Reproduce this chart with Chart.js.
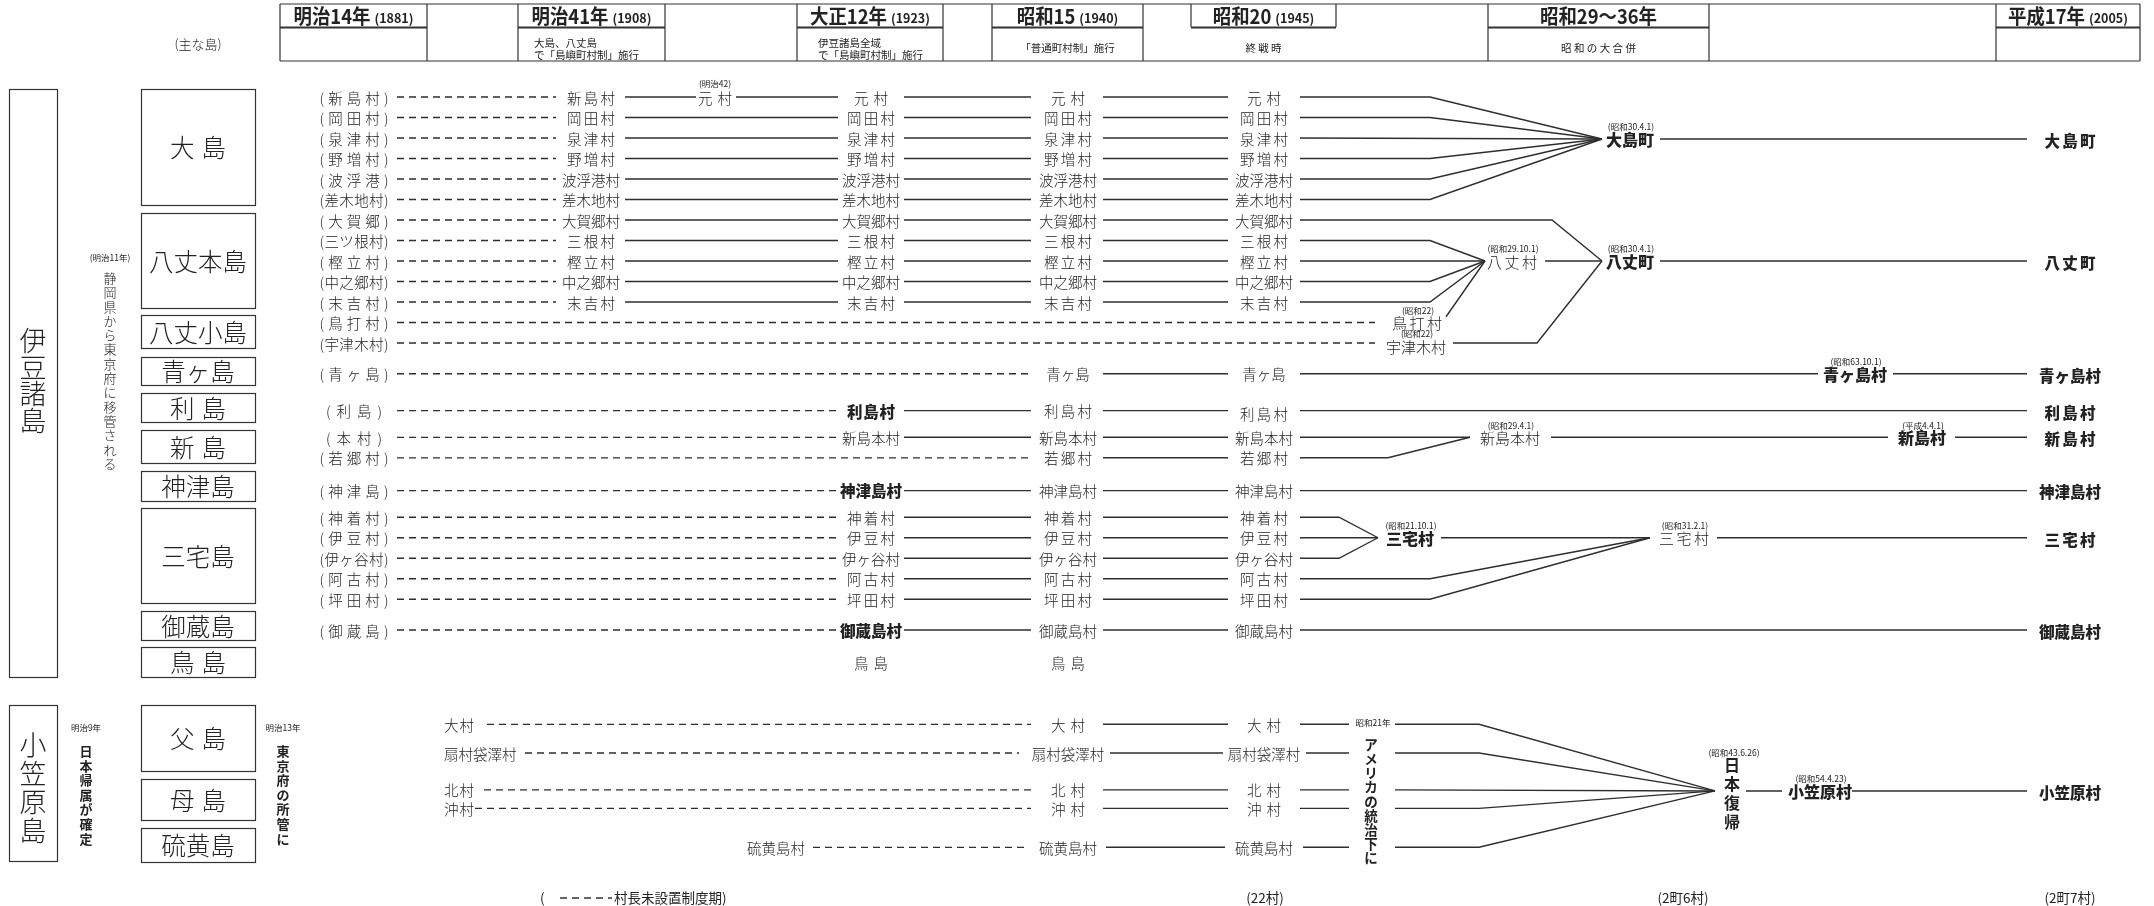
<!DOCTYPE html>
<html lang="ja">
<head>
<meta charset="utf-8">
<title>伊豆諸島・小笠原諸島 町村の変遷</title>
<script src="https://cdn.jsdelivr.net/npm/chart.js@4.4.1/dist/chart.umd.min.js"></script>
<style>
  html, body { margin: 0; padding: 0; background: #fff; }
  #wrap { width: 2154px; height: 906px; }
</style>
</head>
<body>
<div id="wrap"><canvas id="chart" width="2154" height="906"></canvas></div>
<script>
// ---------- data ----------
const periodNames = ['明治14年', '明治41年', '大正12年', '昭和15', '昭和20', '昭和29～36年', '平成17年'];
const periodYears = ['(1881)', '(1908)', '(1923)', '(1940)', '(1945)', '', '(2005)'];
const periodNotes = [[], ['大島、八丈島', 'で「島嶼町村制」施行'], ['伊豆諸島全域', 'で「島嶼町村制」施行'],
  ['「普通町村制」施行'], ['終 戦 時'], ['昭 和 の 大 合 併'], []];

const izuIslands = ['大 島', '八丈本島', '八丈小島', '青ヶ島', '利 島', '新 島', '神津島', '三宅島', '御蔵島', '鳥 島'];
const bonIslands = ['父 島', '母 島', '硫黄島'];

// 伊豆諸島 villages: 明治14 (old name) / 明治41 / 大正12 / 昭和15 / 昭和20
const izuOld = ['新島村', '岡田村', '泉津村', '野増村', '波浮港', '差木地村', '大賀郷', '三ツ根村', '樫立村', '中之郷村', '末吉村',
  '鳥打村', '宇津木村', '青ヶ島', '利島', '本村', '若郷村', '神津島', '神着村', '伊豆村', '伊ヶ谷村', '阿古村', '坪田村', '御蔵島', ''];
const izuM41 = ['新島村', '岡田村', '泉津村', '野増村', '波浮港村', '差木地村', '大賀郷村', '三根村', '樫立村', '中之郷村', '末吉村',
  '', '', '', '', '', '', '', '', '', '', '', '', '', ''];
const izuT12 = ['元村', '岡田村', '泉津村', '野増村', '波浮港村', '差木地村', '大賀郷村', '三根村', '樫立村', '中之郷村', '末吉村',
  '', '', '', '利島村', '新島本村', '', '神津島村', '神着村', '伊豆村', '伊ヶ谷村', '阿古村', '坪田村', '御蔵島村', '鳥島'];
const izuS15 = ['元村', '岡田村', '泉津村', '野増村', '波浮港村', '差木地村', '大賀郷村', '三根村', '樫立村', '中之郷村', '末吉村',
  '', '', '青ヶ島', '利島村', '新島本村', '若郷村', '神津島村', '神着村', '伊豆村', '伊ヶ谷村', '阿古村', '坪田村', '御蔵島村', '鳥島'];
const izuS20 = ['元村', '岡田村', '泉津村', '野増村', '波浮港村', '差木地村', '大賀郷村', '三根村', '樫立村', '中之郷村', '末吉村',
  '', '', '青ヶ島', '利島村', '新島本村', '若郷村', '神津島村', '神着村', '伊豆村', '伊ヶ谷村', '阿古村', '坪田村', '御蔵島村', ''];
const izuT12Bold = ['利島村', '神津島村', '御蔵島村'];
const m42Name = '元村', m42Date = '(明治42)';

// 小笠原 villages: first named / 昭和15 / 昭和20
const bonOld = ['大村', '扇村袋澤村', '北村', '沖村', '硫黄島村'];
const bonS15 = ['大村', '扇村袋澤村', '北村', '沖村', '硫黄島村'];
const bonS20 = ['大村', '扇村袋澤村', '北村', '沖村', '硫黄島村'];

// merged / new municipalities
const mergeNames = ['鳥打村', '宇津木村', '大島町', '八丈村', '八丈町', '新島本村', '三宅村', '三宅村', '新島村', '青ヶ島村', '日本復帰', '小笠原村'];
const mergeDates = ['(昭和22)', '(昭和22)', '(昭和30.4.1)', '(昭和29.10.1)', '(昭和30.4.1)', '(昭和29.4.1)', '(昭和21.10.1)',
  '(昭和31.2.1)', '(平成4.4.1)', '(昭和63.10.1)', '(昭和43.6.26)', '(昭和54.4.23)'];
const mergeBold = [false, false, true, false, true, false, true, false, true, true, true, true];
const finalNames = ['大島町', '八丈町', '青ヶ島村', '利島村', '新島村', '神津島村', '三宅村', '御蔵島村', '小笠原村'];

// r = 伊豆 row at 昭和20, b = 小笠原 row, m = merged node, f = 平成17 name
const mergeLinks = [
  ['r0', 'm2'], ['r1', 'm2'], ['r2', 'm2'], ['r3', 'm2'], ['r4', 'm2'], ['r5', 'm2'],
  ['r6', 'm4'], ['r7', 'm3'], ['r8', 'm3'], ['r9', 'm3'], ['r10', 'm3'],
  ['r11', 'm0'], ['r12', 'm1'], ['m0', 'm3'], ['m3', 'm4'], ['m1', 'm4'],
  ['m2', 'f0'], ['m4', 'f1'],
  ['r13', 'm9'], ['m9', 'f2'], ['r14', 'f3'],
  ['r15', 'm5'], ['r16', 'm5'], ['m5', 'm8'], ['m8', 'f4'], ['r17', 'f5'],
  ['r18', 'm6'], ['r19', 'm6'], ['r20', 'm6'], ['m6', 'm7'], ['r21', 'm7'], ['r22', 'm7'], ['m7', 'f6'],
  ['r23', 'f7'],
  ['b0', 'm10'], ['b1', 'm10'], ['b2', 'm10'], ['b3', 'm10'], ['b4', 'm10'], ['m10', 'm11'], ['m11', 'f8']
];
const totals = ['(22村)', '(2町6村)', '(2町7村)'];

// ---------- layout ----------
const W = 2154, H = 906;
const ROW0 = 97, ROW_PX = 20.5;
const colX = [354, 591, 871, 1068, 1264];
const colIn = [0, 556, 838, 1031, 1228];
const colOut = [397, 625, 904, 1103, 1300];
const m42X = 715, m42In = 696, m42Out = 736;
const izuSlot = [0, 1, 2, 3, 4, 5, 6, 7, 8, 9, 10, 11, 12, 13.5, 15.3, 16.6, 17.6, 19.2, 20.5, 21.5, 22.5, 23.5, 24.5, 26, 27.6];
const bonSlot = [30.6, 32, 33.8, 34.7, 36.6];
const bonStartX = [444, 444, 444, 444, 776];
const bonDashStart = [487, 525, 484, 475, 813];
const bonC3In = [1031, 1019, 1031, 1031, 1027];
const bonC3Out = [1103, 1110, 1103, 1103, 1106];
const bonC4In = [1228, 1223, 1228, 1228, 1225];
const bonC4Out = [1300, 1306, 1300, 1300, 1303];
const bonGap = [1349, 1395];
const mergeLayout = [
  { x: 1417, slot: 11, inX: 1375, outX: 1446, outSlot: 10.72 },
  { x: 1416, slot: 12.15, inX: 1375, outX: 1453, lineSlot: 12 },
  { x: 1630, slot: 2.05, inX: 1602, outX: 1660 },
  { x: 1512, slot: 8, inX: 1485, outX: 1545 },
  { x: 1630, slot: 8, inX: 1602, outX: 1660 },
  { x: 1510, slot: 16.6, inX: 1470, outX: 1551 },
  { x: 1410, slot: 21.5, inX: 1378, outX: 1441 },
  { x: 1684, slot: 21.5, inX: 1650, outX: 1717 },
  { x: 1922, slot: 16.6, inX: 1888, outX: 1955 },
  { x: 1855, slot: 13.5, inX: 1818, outX: 1893 },
  { x: 1732, slot: 33.85, inX: 1715, outX: 1746 },
  { x: 1820, slot: 33.85, inX: 1782, outX: 1852 }
];
const bendAt = { 'r6>m4': 1552, 'm1>m4': 1537, 'r16>m5': 1388, 'r18>m6': 1339, 'r20>m6': 1339 };
const finalX = 2070, finalIn = 2027;
const totalsX = [1265, 1683, 2070];

const titleBoxes = [[280, 427], [518, 665], [797, 943], [992, 1143], [1191, 1336], [1488, 1709], [1996, 2140]];
const lowerLines = [280, 427, 518, 665, 797, 943, 992, 1143, 1488, 1709, 1996, 2140];
const izuBoxY = [[89, 205], [213, 308], [315, 348], [357, 385], [393, 422], [430, 463], [471, 501], [508, 603], [611, 640], [647, 677]];
const bonBoxY = [[705, 771], [779, 820], [828, 862]];

const FONT = '"Noto Sans CJK JP", "Noto Sans", sans-serif';
const INK = '#222';
const LINE = '#2e2e2e';

// ---------- line datasets ----------
const datasets = [];
function addLine(points, dashed) {
  datasets.push({
    data: points.map(p => ({ x: p[0], y: p[1] })),
    showLine: true,
    borderColor: LINE,
    borderWidth: dashed ? 1.3 : 1.4,
    borderDash: dashed ? [7, 5] : [],
    pointRadius: 0,
    fill: false,
    tension: 0,
    clip: false
  });
}

const izuCols = [izuOld, izuM41, izuT12, izuS15, izuS20];
izuSlot.forEach((slot, i) => {
  if (!izuOld[i]) return;
  const present = [0, 1, 2, 3, 4].filter(c => izuCols[c][i]);
  for (let k = 0; k < present.length - 1; k++) {
    const a = present[k], b = present[k + 1];
    if (i === 0 && a === 1) {
      addLine([[colOut[1], slot], [m42In, slot]], false);
      addLine([[m42Out, slot], [colIn[2], slot]], false);
      continue;
    }
    addLine([[colOut[a], slot], [colIn[b], slot]], a === 0);
  }
});

bonSlot.forEach((slot, i) => {
  addLine([[bonDashStart[i], slot], [bonC3In[i], slot]], true);
  addLine([[bonC3Out[i], slot], [bonC4In[i], slot]], false);
});

function source(id) {
  const n = +id.slice(1);
  if (id[0] === 'r') {
    const present = [0, 1, 2, 3, 4].filter(c => izuCols[c][n]);
    const last = present[present.length - 1];
    return { outX: colOut[last], slot: izuSlot[n], dashed: last === 0 };
  }
  if (id[0] === 'b') return { outX: bonC4Out[n], slot: bonSlot[n], dashed: false };
  const m = mergeLayout[n];
  const s = m.outSlot !== undefined ? m.outSlot : m.lineSlot !== undefined ? m.lineSlot : m.slot;
  return { outX: m.outX, slot: s, dashed: false };
}
function target(id, s) {
  if (id[0] === 'f') return { inX: finalIn, slot: s.slot };
  const m = mergeLayout[+id.slice(1)];
  return { inX: m.inX, slot: m.lineSlot !== undefined ? m.lineSlot : m.slot };
}

mergeLinks.forEach(([from, to]) => {
  const s = source(from);
  const t = target(to, s);
  const pts = [];
  let startX = s.outX;
  if (from[0] === 'b') {
    addLine([[s.outX, s.slot], [bonGap[0], s.slot]], false);
    startX = bonGap[1];
  }
  pts.push([startX, s.slot]);
  if (Math.abs(t.slot - s.slot) > 0.1 && from[0] !== 'm' || bendAt[from + '>' + to]) {
    const bx = bendAt[from + '>' + to] || (from[0] === 'b' ? 1479 : 1430);
    pts.push([bx, s.slot]);
  }
  pts.push([t.inX, t.slot]);
  addLine(pts, s.dashed);
});

// ---------- text helpers ----------
function setFont(ctx, size, weight) {
  ctx.font = (weight || 'normal') + ' ' + size + 'px ' + FONT;
}
function spaced(ctx, text, cx, cy, width, align) {
  const chars = [...text];
  const ws = chars.map(c => ctx.measureText(c).width);
  const natural = ws.reduce((a, b) => a + b, 0);
  const gap = width && chars.length > 1 && width > natural ? (width - natural) / (chars.length - 1) : 0;
  const total = natural + gap * (chars.length - 1);
  let x = align === 'left' ? cx : cx - total / 2;
  ctx.textAlign = 'left';
  chars.forEach((c, i) => { ctx.fillText(c, x, cy); x += ws[i] + gap; });
  return total;
}
function vText(ctx, text, x, y0, step) {
  ctx.textAlign = 'center';
  [...text].forEach((c, i) => ctx.fillText(c, x, y0 + i * step));
}
function labelWidth(text) {
  const n = [...text].length;
  return n === 2 ? 34 : n === 3 && text.indexOf('ヶ') < 0 ? 48 : 0;
}
function smallNote(ctx, text, x, y) {
  setFont(ctx, 8.5, 'normal');
  ctx.textAlign = 'center';
  ctx.fillText(text, x, y);
}

const textPlugin = {
  id: 'diagramText',
  afterDatasetsDraw(chart) {
    const ctx = chart.ctx;
    const xs = chart.scales.x, ys = chart.scales.y;
    const px = v => xs.getPixelForValue(v);
    const py = v => ys.getPixelForValue(v);
    ctx.save();
    ctx.fillStyle = INK;
    ctx.strokeStyle = '#333';
    ctx.textBaseline = 'middle';

    // header table
    ctx.lineWidth = 1.2;
    ctx.beginPath();
    ctx.moveTo(280, 4); ctx.lineTo(2140, 4);
    ctx.moveTo(280, 61); ctx.lineTo(2140, 61);
    lowerLines.forEach(x => { ctx.moveTo(x, 4); ctx.lineTo(x, 61); });
    titleBoxes.forEach(([a, b]) => { ctx.moveTo(a, 4); ctx.lineTo(a, 27); ctx.moveTo(b, 4); ctx.lineTo(b, 27); });
    ctx.stroke();
    ctx.lineWidth = 2;
    ctx.beginPath();
    titleBoxes.forEach(([a, b]) => { ctx.moveTo(a, 27.5); ctx.lineTo(b, 27.5); });
    ctx.stroke();

    titleBoxes.forEach(([a, b], i) => {
      setFont(ctx, 20, 'bold');
      const w1 = ctx.measureText(periodNames[i]).width * 0.92;
      setFont(ctx, 12.5, 'bold');
      const w2 = periodYears[i] ? ctx.measureText(periodYears[i]).width + 4 : 0;
      let x = (a + b) / 2 - (w1 + w2) / 2;
      setFont(ctx, 20, 'bold');
      ctx.textAlign = 'left';
      ctx.fillText(periodNames[i], x, 16, w1);
      if (w2) {
        setFont(ctx, 12.5, 'bold');
        ctx.fillText(periodYears[i], x + w1 + 4, 18);
      }
      const notes = periodNotes[i];
      setFont(ctx, 10.5, 'normal');
      if (notes.length === 2) {
        ctx.textAlign = 'left';
        const lx = i === 1 ? 534 : 818;
        ctx.fillText(notes[0], lx, 43);
        ctx.fillText(notes[1], lx, 55);
      } else if (notes.length === 1) {
        ctx.textAlign = 'center';
        ctx.fillText(notes[0], (a + b) / 2, 48);
      }
    });
    setFont(ctx, 13, '300');
    ctx.textAlign = 'center';
    ctx.fillText('(主な島)', 198, 44);

    // left boxes
    ctx.lineWidth = 1.2;
    ctx.strokeRect(9.5, 89.5, 48, 588);
    ctx.strokeRect(9.5, 705.5, 48, 156);
    setFont(ctx, 27, '300');
    vText(ctx, '伊豆諸島', 33, 341, 26.5);
    vText(ctx, '小笠原島', 33, 745, 28.5);
    izuBoxY.forEach(([a, b], i) => {
      ctx.strokeRect(141.5, a + 0.5, 114, b - a);
      setFont(ctx, 24.5, '300');
      spaced(ctx, izuIslands[i], 198, (a + b) / 2 + 1, izuIslands[i].indexOf(' ') > 0 ? 56 : 0);
    });
    bonBoxY.forEach(([a, b], i) => {
      ctx.strokeRect(141.5, a + 0.5, 114, b - a);
      setFont(ctx, 24.5, '300');
      spaced(ctx, bonIslands[i], 198, (a + b) / 2 + 1, bonIslands[i].indexOf(' ') > 0 ? 56 : 0);
    });
    smallNote(ctx, '(明治11年)', 110, 258);
    setFont(ctx, 13, '300');
    vText(ctx, '静岡県から東京府に移管される', 110, 278, 14.3);
    smallNote(ctx, '明治9年', 86, 728);
    smallNote(ctx, '明治13年', 283, 728);
    setFont(ctx, 13, 'bold');
    vText(ctx, '日本帰属が確定', 86, 751, 14.6);
    vText(ctx, '東京府の所管に', 283, 751, 14.6);

    // 伊豆 village labels
    izuSlot.forEach((slot, i) => {
      const y = py(slot) + 1;
      if (izuOld[i]) {
        setFont(ctx, 14.5, '300');
        const n = [...izuOld[i]].length;
        spaced(ctx, '(' + izuOld[i] + ')', px(colX[0]), y, n <= 2 ? 56 : 69);
      }
      for (let c = 1; c <= 4; c++) {
        const name = izuCols[c][i];
        if (!name) continue;
        const bold = c === 2 && izuT12Bold.indexOf(name) >= 0;
        setFont(ctx, bold ? 15.5 : 14.5, bold ? '900' : '300');
        spaced(ctx, name, px(colX[c]), y + (c === 4 && i === 14 ? 3 : 0), labelWidth(name));
      }
    });
    setFont(ctx, 14.5, '300');
    spaced(ctx, m42Name, px(m42X), py(izuSlot[0]) + 1, 34);
    smallNote(ctx, m42Date, px(m42X), py(izuSlot[0]) - 13);

    // 小笠原 village labels
    bonSlot.forEach((slot, i) => {
      const y = py(slot) + 1;
      setFont(ctx, 14.5, '300');
      const w0 = [...bonOld[i]].length === 2 ? 30 : 0;
      if (i === 4) spaced(ctx, bonOld[i], px(bonStartX[i]), y, 0);
      else spaced(ctx, bonOld[i], px(bonStartX[i]), y, w0, 'left');
      spaced(ctx, bonS15[i], px(colX[3]), y, labelWidth(bonS15[i]));
      spaced(ctx, bonS20[i], px(colX[4]), y, labelWidth(bonS20[i]));
    });
    smallNote(ctx, '昭和21年', 1373, 723);
    setFont(ctx, 13.5, 'bold');
    vText(ctx, 'アメリカの統治下に', 1371, 745, 14.1);

    // merged nodes
    mergeLayout.forEach((m, i) => {
      const y = py(m.slot) + 1;
      if (i === 10) {
        smallNote(ctx, mergeDates[i], px(m.x) + 2, py(m.slot) - 38);
        setFont(ctx, 16, 'bold');
        vText(ctx, mergeNames[i], px(m.x), py(m.slot) - 26, 19);
        return;
      }
      const bold = mergeBold[i];
      setFont(ctx, bold ? 16 : 15, bold ? '900' : '300');
      const n = [...mergeNames[i]].length;
      spaced(ctx, mergeNames[i], px(m.x), y, n === 3 ? (bold ? 48 : 50) : 0);
      smallNote(ctx, mergeDates[i], px(m.x) + 1, y - 13);
    });

    // 平成17 names
    mergeLinks.filter(l => l[1][0] === 'f').forEach(([from, to]) => {
      const s = source(from);
      const name = finalNames[+to.slice(1)];
      setFont(ctx, 15.5, '900');
      spaced(ctx, name, px(finalX), py(s.slot) + 2, [...name].length === 3 ? 51 : 0);
    });

    // footer
    setFont(ctx, 13.5, 'normal');
    totals.forEach((t, i) => { ctx.textAlign = 'center'; ctx.fillText(t, px(totalsX[i]), 898); });
    ctx.textAlign = 'left';
    ctx.fillText('(', 540, 898);
    ctx.fillText('村長未設置制度期)', 614, 898);
    ctx.lineWidth = 1.3;
    ctx.setLineDash([7, 5]);
    ctx.beginPath(); ctx.moveTo(560, 898); ctx.lineTo(612, 898); ctx.stroke();
    ctx.setLineDash([]);
    ctx.restore();
  }
};

new Chart(document.getElementById('chart'), {
  type: 'scatter',
  data: { datasets },
  options: {
    responsive: false,
    animation: false,
    devicePixelRatio: 1,
    events: [],
    layout: { padding: 0 },
    plugins: { legend: { display: false }, tooltip: { enabled: false } },
    scales: {
      x: { type: 'linear', display: false, min: 0, max: W },
      y: { type: 'linear', display: false, reverse: true, min: -ROW0 / ROW_PX, max: (H - ROW0) / ROW_PX }
    }
  },
  plugins: [textPlugin]
});
</script>
</body>
</html>
